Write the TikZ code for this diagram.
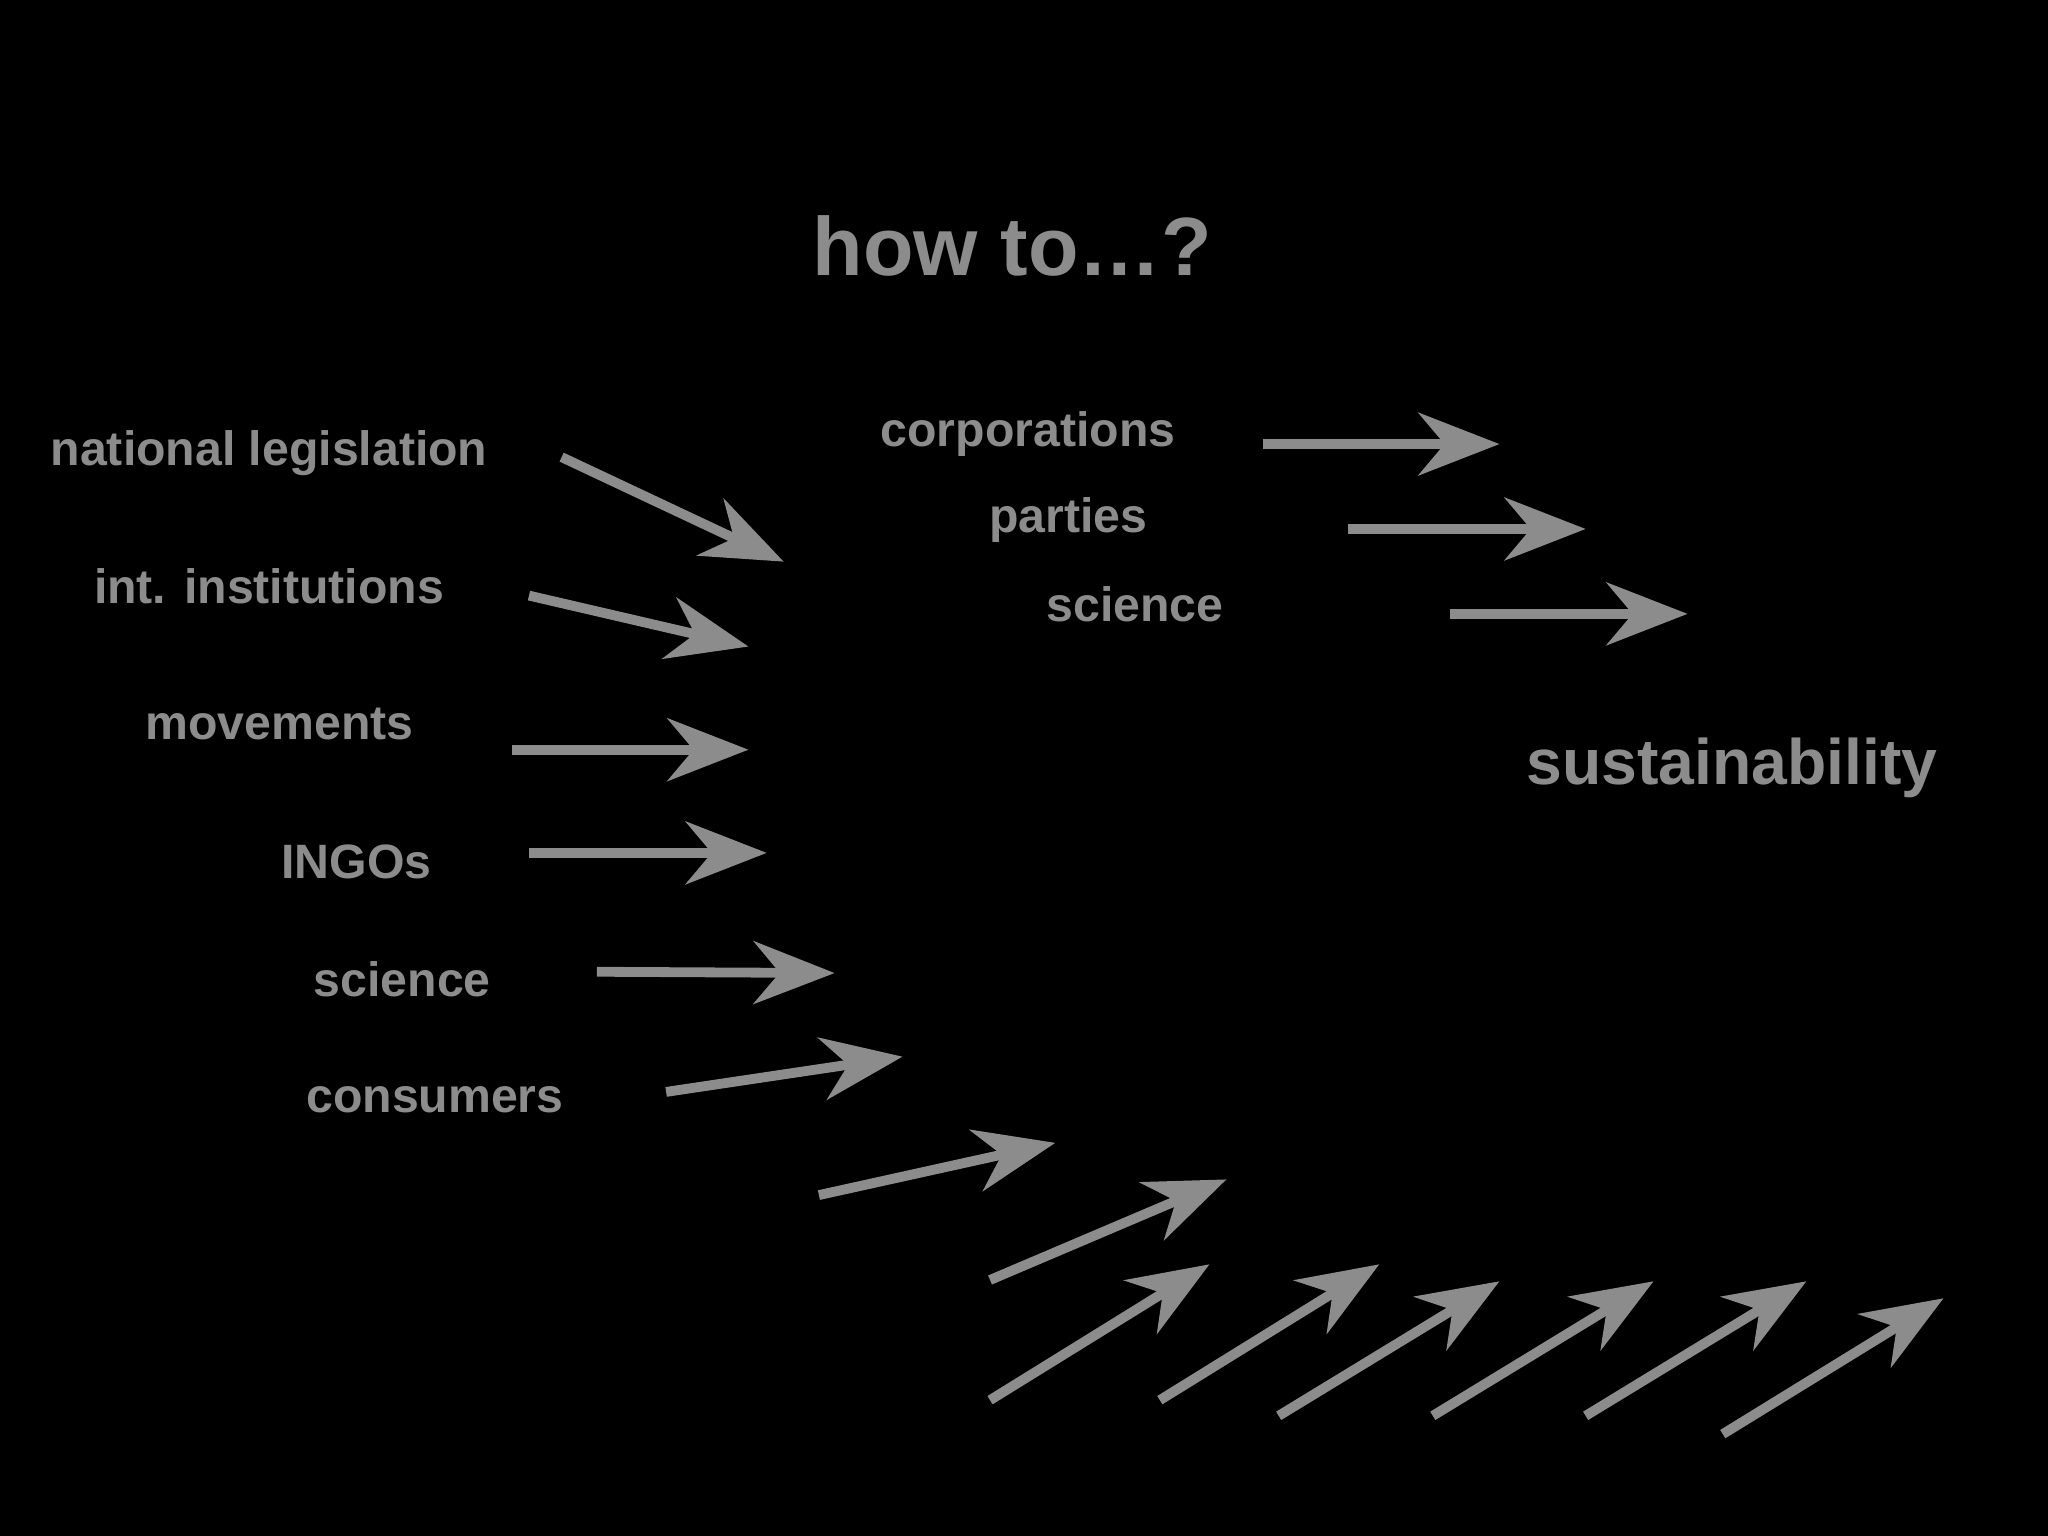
\documentclass[tikz,border=0pt]{standalone}
\usepackage{fontspec}
\setmainfont{Liberation Sans}
\usetikzlibrary{arrows.meta}
\definecolor{fg}{HTML}{8C8C8C}
\begin{document}
\begin{tikzpicture}[x=0.01cm,y=-0.01cm,
  lbl/.style={text=fg,font=\bfseries\fontsize{10.5}{12}\selectfont,inner sep=0pt},
  arr/.style={draw=fg,line width=0.075cm,-{Stealth[length=0.62cm,width=0.48cm,inset=0.2cm]}}]
\fill[black] (0,0) rectangle (1568,1176);
\useasboundingbox (0,0) rectangle (1568,1176);
\node[lbl,font=\bfseries\fontsize{18}{20}\selectfont] (title) at (775,188) {how to…?};
\node[lbl,font=\bfseries\fontsize{14}{16}\selectfont] (sus) at (1326,588) {sustainability};
\node[lbl] (nl) at (206,347) {national legislation};
\node[lbl] (ii) at (206,449) {int. institutions};
\node[lbl] (mv) at (214,554) {movements};
\node[lbl] (ing) at (273,660) {INGOs};
\node[lbl] (sc) at (308,750) {science};
\node[lbl] (cons) at (333,842) {consumers};
\node[lbl] (corp) at (787,332) {corporations};
\node[lbl] (par) at (818,398) {parties};
\node[lbl] (sc2) at (869,463) {science};
\foreach \i/\a/\b/\c/\d in {1/430/350/600/430,2/405/456/573/495,3/392/574/573/574,4/405/653/587/653,
 5/457/744/639/745,6/510/836/691/809,7/627/915/808/875,8/758/980/939/903,9/758/1072/926/968,
 10/888/1072/1056/968,11/979/1084/1148/981,12/1097/1084/1266/981,13/1214/1084/1383/981,
 14/1319/1098/1488/994,15/967/340/1148/340,16/1032/405/1214/405,17/1110/470/1292/470}{
 \coordinate (s\i) at (\a,\b); \coordinate (t\i) at (\c,\d);
 \draw[arr] (s\i) -- (t\i);}
\end{tikzpicture}
\end{document}
